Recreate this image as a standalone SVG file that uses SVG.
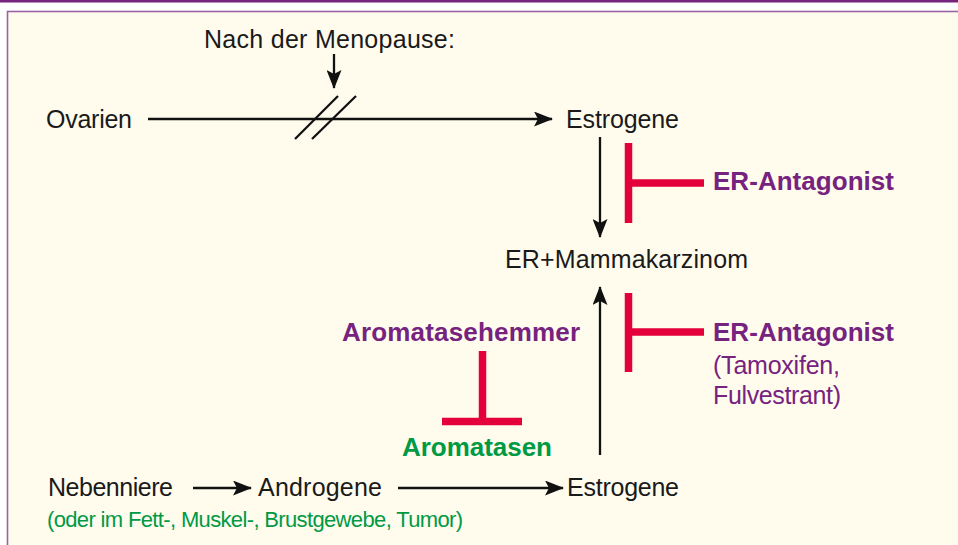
<svg xmlns="http://www.w3.org/2000/svg" width="958" height="545" viewBox="0 0 958 545">
  <defs>
    <style>
      .t { font-family: "Liberation Sans", Arial, sans-serif; font-size: 25px; fill: #1a1a1a; }
      .b { font-family: "Liberation Sans", Arial, sans-serif; font-size: 26px; font-weight: bold; }
      .pur { fill: #76237f; }
      .grn { fill: #009a45; }
      .sm { font-family: "Liberation Sans", Arial, sans-serif; font-size: 22px; }
      .ln { stroke: #111; stroke-width: 2.3; fill: none; }
      .inh { stroke: #e4003a; stroke-width: 7.5; fill: none; }
    </style>
    <marker id="ah" markerWidth="19" markerHeight="15" refX="18" refY="7.5" orient="auto" markerUnits="userSpaceOnUse">
      <path d="M0,0 L19,7.5 L0,15 L4,7.5 Z" fill="#111"/>
    </marker>
  </defs>

  <rect x="0" y="0" width="958" height="545" fill="#ffffff"/>
  <rect x="0" y="0" width="958" height="2.5" fill="#76237f"/>
  <rect x="7.5" y="11.5" width="960" height="545" fill="#fffcee" stroke="#9a63a6" stroke-width="1.6"/>

  <g id="connectors">
    <line class="ln" x1="148" y1="119" x2="552" y2="119" marker-end="url(#ah)"/>
    <line class="ln" x1="295" y1="139" x2="338" y2="96"/>
    <line class="ln" x1="312" y1="139" x2="356" y2="96"/>
    <line class="ln" x1="334" y1="54" x2="334" y2="88" marker-end="url(#ah)"/>
    <line class="ln" x1="600" y1="137" x2="600" y2="237" marker-end="url(#ah)"/>
    <line class="ln" x1="600" y1="455" x2="600" y2="287" marker-end="url(#ah)"/>
    <line class="ln" x1="193" y1="488" x2="251" y2="488" marker-end="url(#ah)"/>
    <line class="ln" x1="398" y1="488" x2="563" y2="488" marker-end="url(#ah)"/>
    <path class="inh" d="M628.5,143 V223 M628.5,183 H704"/>
    <path class="inh" d="M628.5,293 V372 M628.5,332 H704"/>
    <path class="inh" d="M482.5,351 V421.5 M442,421.5 H522"/>
  </g>

  <g id="menopause"><text class="t" x="204" y="48" textLength="251">Nach der Menopause:</text></g>
  <g id="ovarien"><text class="t" x="46" y="128" textLength="86">Ovarien</text></g>
  <g id="estrogene-top"><text class="t" x="566" y="128" textLength="113">Estrogene</text></g>
  <g id="er-antagonist-1"><text class="b pur" x="713" y="190" textLength="181">ER-Antagonist</text></g>
  <g id="mammakarzinom"><text class="t" x="505" y="268" textLength="243">ER+Mammakarzinom</text></g>
  <g id="aromatasehemmer"><text class="b pur" x="342" y="341" textLength="238">Aromatasehemmer</text></g>
  <g id="er-antagonist-2">
    <text class="b pur" x="713" y="341" textLength="181">ER-Antagonist</text>
    <text class="t pur" x="713" y="374" textLength="127">(Tamoxifen,</text>
    <text class="t pur" x="713" y="404" textLength="128">Fulvestrant)</text>
  </g>
  <g id="aromatasen"><text class="b grn" x="402" y="456" textLength="150">Aromatasen</text></g>
  <g id="nebenniere"><text class="t" x="48" y="496" textLength="125">Nebenniere</text></g>
  <g id="androgene"><text class="t" x="258" y="496" textLength="124">Androgene</text></g>
  <g id="estrogene-bottom"><text class="t" x="567" y="496" textLength="112">Estrogene</text></g>
  <g id="gewebe"><text class="sm grn" x="47" y="527" textLength="416">(oder im Fett-, Muskel-, Brustgewebe, Tumor)</text></g>
</svg>
